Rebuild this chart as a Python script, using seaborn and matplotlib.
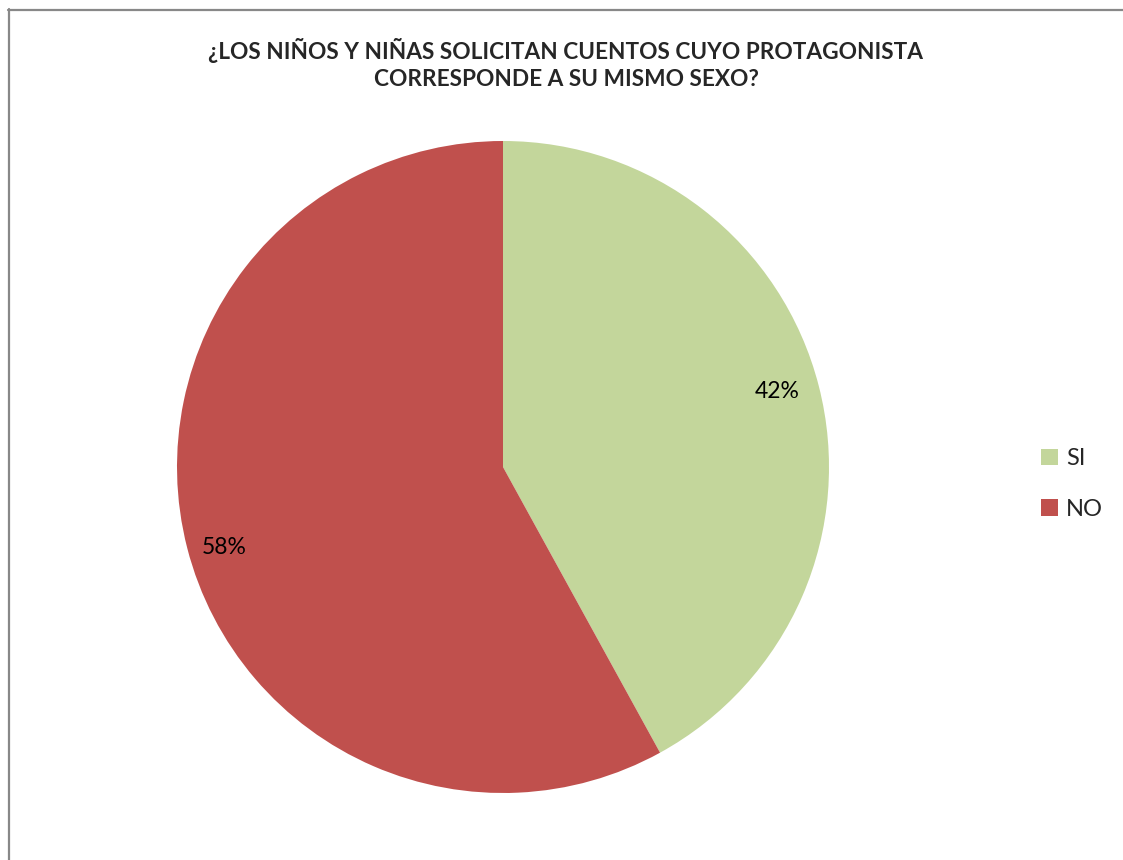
import matplotlib
matplotlib.use("Agg")
import matplotlib.pyplot as plt
import seaborn as sns
from matplotlib.lines import Line2D
from matplotlib.patches import Patch

categories = ["SI", "NO"]
values = [42, 58]
colors = ["#C3D69B", "#C0504D"]
title = "¿LOS NIÑOS Y NIÑAS SOLICITAN CUENTOS CUYO PROTAGONISTA\nCORRESPONDE A SU MISMO SEXO?"

sns.set_theme(style="white")
plt.rcParams['font.family'] = ['Lato', 'DejaVu Sans']

W, H = 1123, 860
fig = plt.figure(figsize=(W / 100, H / 100), dpi=100)
fig.patch.set_facecolor("white")

cx, cy, r = 503, 467, 326
ax = fig.add_axes([(cx - r) / W, (H - cy - r) / H, 2 * r / W, 2 * r / H])
wedges, texts, autotexts = ax.pie(
    values, colors=colors, startangle=90, counterclock=False,
    autopct=lambda p: f"{p:.0f}%", pctdistance=0.875, radius=1,
    wedgeprops=dict(linewidth=0),
    textprops=dict(fontsize=16.5, color="black"),
)
# label placement as in the reference chart
label_pos = [(0.840, 0.233), (-0.856, -0.248)]
for t, p in zip(autotexts, label_pos):
    t.set_position(p)
ax.set_xlim(-1, 1)
ax.set_ylim(-1, 1)
ax.set_aspect("equal")
ax.axis("off")

fig.text(566 / W, 1 - 64 / H, title, ha="center", va="center",
         fontsize=16.3, fontweight="bold", linespacing=1.4)

handles = [Patch(facecolor=c, edgecolor="none") for c in colors]
leg = fig.legend(handles, categories, loc="center left",
                 bbox_to_anchor=(1020 / W, 1 - 484 / H), frameon=False,
                 fontsize=17, handlelength=0.7, handleheight=0.7,
                 handletextpad=0.35, labelspacing=1.25)

# chart frame (left and top edges visible)
fig.add_artist(Line2D([8.5 / W, 8.5 / W], [0, 1 - 9 / H], color="#888888",
                      linewidth=1.6, transform=fig.transFigure))
fig.add_artist(Line2D([8 / W, 1], [1 - 9.5 / H, 1 - 9.5 / H], color="#888888",
                      linewidth=1.6, transform=fig.transFigure))

fig.savefig("out.png", dpi=100)
